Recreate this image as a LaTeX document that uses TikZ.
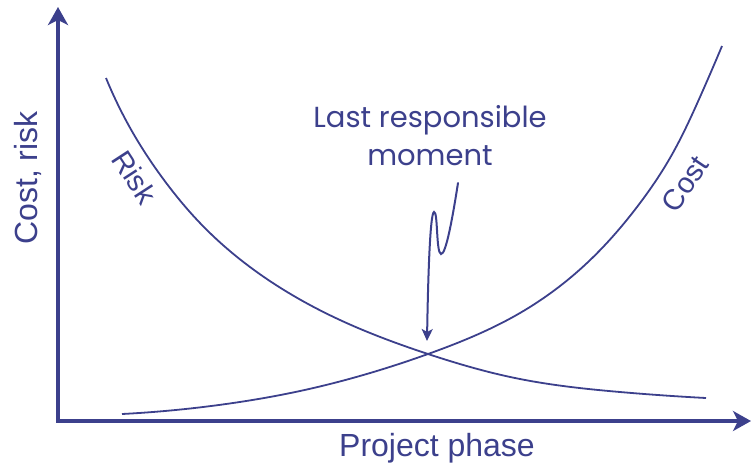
\documentclass[tikz,border=0pt]{standalone}
\usepackage{fontspec}
\setmainfont{Liberation Sans}
\newfontfamily\handfont{Poppins}
\usetikzlibrary{arrows.meta,hobby}
\definecolor{ink}{RGB}{60,64,140}
\begin{document}
\begin{tikzpicture}[x=1pt,y=-1pt,
  axis/.style={draw=ink,line width=3.4pt,-{Stealth[length=18pt,width=20pt,inset=5pt]}},
  curve/.style={draw=ink,line width=1.8pt,use Hobby shortcut},
  pointer/.style={draw=ink,line width=2pt,line cap=round,-{Stealth[length=12pt,width=11pt,inset=3pt]}},
  lbl/.style={text=ink,font=\fontsize{32}{36}\selectfont,inner sep=0pt},
  crvlbl/.style={text=ink,font=\fontsize{29}{34}\selectfont,inner sep=0pt},
  hand/.style={text=ink,font=\handfont\fontsize{29}{36}\selectfont,inner sep=0pt}]
\useasboundingbox (0,0) rectangle (751,467);
% axes
\coordinate (O) at (58,421);
\coordinate (ytip) at (58,7);
\coordinate (xtip) at (751,421);
\draw[axis] (O) -- (ytip);
\draw[axis] ([xshift=-1.7pt]O) -- (xtip);
% curves
\draw[curve] (106,78) .. (133,133) .. (167,184) .. (200,223) .. (250,267) .. (340,320) .. (428,354) .. (515,378) .. (620,392) .. (706,398);
\draw[curve] (122,414) .. (233,403) .. (300,391) .. (428,354) .. (520,313) .. (587,263) .. (637,207) .. (670,158) .. (700,97) .. (722,46);
% labels
\node[lbl,rotate=90,anchor=base] (ylab) at (37,178) {Cost, risk};
\node[lbl,anchor=base] (xlab) at (437,456) {Project phase};
\node[crvlbl,rotate=-57] (risk) at (135,177) {Risk};
\node[crvlbl,rotate=56] (cost) at (685,184) {Cost};
\node[hand,anchor=base] (lr) at (430,127) {Last responsible};
\node[hand,anchor=base] (mom) at (430,165) {moment};
% pointer
\coordinate (ps) at (458,183);
\coordinate (cross) at (427,341);
\draw[pointer] (ps) .. controls (453,215) and (446,255) .. (441,254)
  .. controls (436,253) and (438,211) .. (434,212)
  .. controls (430,213) and (428,280) .. (cross);
\end{tikzpicture}
\end{document}
